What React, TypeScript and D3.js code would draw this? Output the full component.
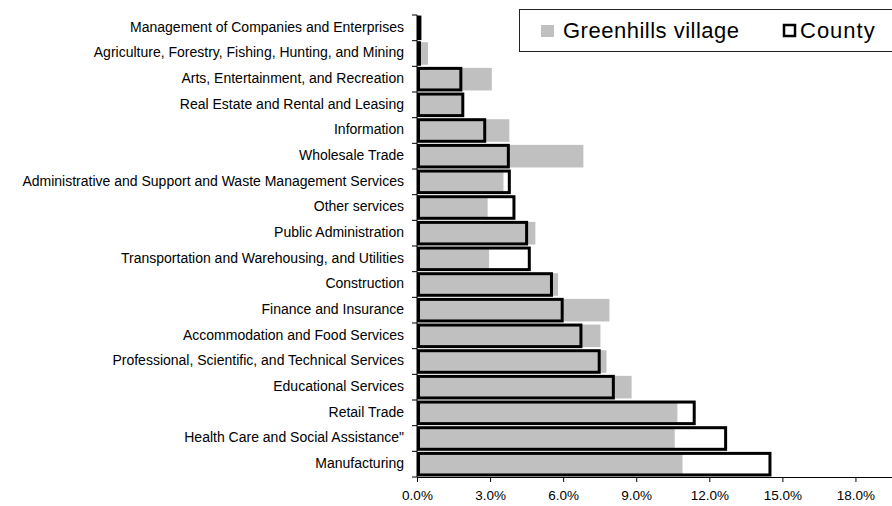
import * as d3 from "d3";
import { useEffect, useRef } from "react";

const categories = [
  "Management of Companies and Enterprises",
  "Agriculture, Forestry, Fishing, Hunting, and Mining",
  "Arts, Entertainment, and Recreation",
  "Real Estate and Rental and Leasing",
  "Information",
  "Wholesale Trade",
  "Administrative and Support and Waste Management Services",
  "Other services",
  "Public Administration",
  "Transportation and Warehousing, and Utilities",
  "Construction",
  "Finance and Insurance",
  "Accommodation and Food Services",
  "Professional, Scientific, and Technical Services",
  "Educational Services",
  "Retail Trade",
  "Health Care and Social Assistance\"",
  "Manufacturing",
];

const village = [0.05, 0.45, 3.07, 1.85, 3.79, 6.83, 3.55, 2.9, 4.86, 2.96, 5.79, 7.9, 7.53, 7.78, 8.81, 10.69, 10.58, 10.9];
const county = [0.12, 0.1, 1.8, 1.88, 2.78, 3.75, 3.79, 3.98, 4.5, 4.61, 5.52, 5.96, 6.73, 7.48, 8.06, 11.38, 12.67, 14.49];

const xTicks = [0, 3, 6, 9, 12, 15, 18];

const W = 892, H = 506;
const margin = { top: 15, right: 0, bottom: 29, left: 417 };
const font = "Liberation Sans, Arial, sans-serif";

const App = () => {
  const ref = useRef<SVGSVGElement | null>(null);

  useEffect(() => {
    if (!ref.current) return;
    const svg = d3.select(ref.current);
    svg.selectAll("*").remove();

    const width = W - margin.left - margin.right;
    const height = H - margin.top - margin.bottom;
    const g = svg.append("g").attr("transform", `translate(${margin.left},${margin.top})`);

    const x = d3.scaleLinear().domain([0, 19.5]).range([0, width]);
    const y = d3.scaleBand().domain(categories).range([0, height]).paddingInner(0.12).paddingOuter(0.06);

    // village bars (gray)
    g.selectAll(".v")
      .data(categories)
      .join("rect")
      .attr("x", 0)
      .attr("y", d => y(d)!)
      .attr("width", (d, i) => x(village[i]))
      .attr("height", y.bandwidth())
      .attr("fill", "#c0c0c0");

    // county bars (outline only, drawn over)
    g.selectAll(".c")
      .data(categories)
      .join("rect")
      .attr("x", 1.5)
      .attr("y", d => y(d)! + 0.5)
      .attr("width", (d, i) => Math.max(x(county[i]) - 1.5, 0.5))
      .attr("height", y.bandwidth() - 1)
      .attr("fill", "none")
      .attr("stroke", "#000")
      .attr("stroke-width", 3);

    // y axis
    const step = height / categories.length;
    const yax = g.append("g");
    yax.append("line").attr("x1", 0).attr("x2", 0).attr("y1", 0).attr("y2", height).attr("stroke", "#000");
    yax.selectAll("line.t")
      .data(d3.range(categories.length + 1))
      .join("line")
      .attr("class", "t")
      .attr("x1", -5).attr("x2", 0)
      .attr("y1", d => d * step).attr("y2", d => d * step)
      .attr("stroke", "#000");
    yax.selectAll("text")
      .data(categories)
      .join("text")
      .attr("x", -13)
      .attr("y", d => y(d)! + y.bandwidth() / 2)
      .attr("dy", "0.28em")
      .attr("text-anchor", "end")
      .style("font-family", font)
      .style("font-size", "14px")
      .attr("fill", "#000")
      .text(d => d);

    // x axis
    const xax = g.append("g").attr("transform", `translate(0,${height})`)
      .call(d3.axisBottom(x).tickValues(xTicks).tickSize(5).tickSizeOuter(0).tickFormat(d => `${(+d).toFixed(1)}%`));
    xax.select(".domain").attr("stroke", "#000");
    xax.selectAll(".tick line").attr("stroke", "#000");
    xax.selectAll("text")
      .attr("dy", "1.1em")
      .style("font-family", font)
      .style("font-size", "13.5px")
      .attr("fill", "#000");

    // legend
    const lg = svg.append("g");
    lg.append("rect").attr("x", 519.5).attr("y", 9.5).attr("width", 400).attr("height", 42)
      .attr("fill", "#fff").attr("stroke", "#222");
    lg.append("rect").attr("x", 541).attr("y", 25).attr("width", 13).attr("height", 12).attr("fill", "#c0c0c0");
    lg.append("text").attr("x", 563).attr("y", 38)
      .style("font-family", font).style("font-size", "22px").style("letter-spacing", "0.5px")
      .text("Greenhills village");
    lg.append("rect").attr("x", 784).attr("y", 25).attr("width", 11).attr("height", 11)
      .attr("fill", "none").attr("stroke", "#000").attr("stroke-width", 2.5);
    lg.append("text").attr("x", 800).attr("y", 38)
      .style("font-family", font).style("font-size", "22px").style("letter-spacing", "1px")
      .text("County");
  }, []);

  return <svg ref={ref} width={W} height={H} style={{ position: "absolute", left: 0, top: 0, background: "#fff" }} />;
};

export default App;
